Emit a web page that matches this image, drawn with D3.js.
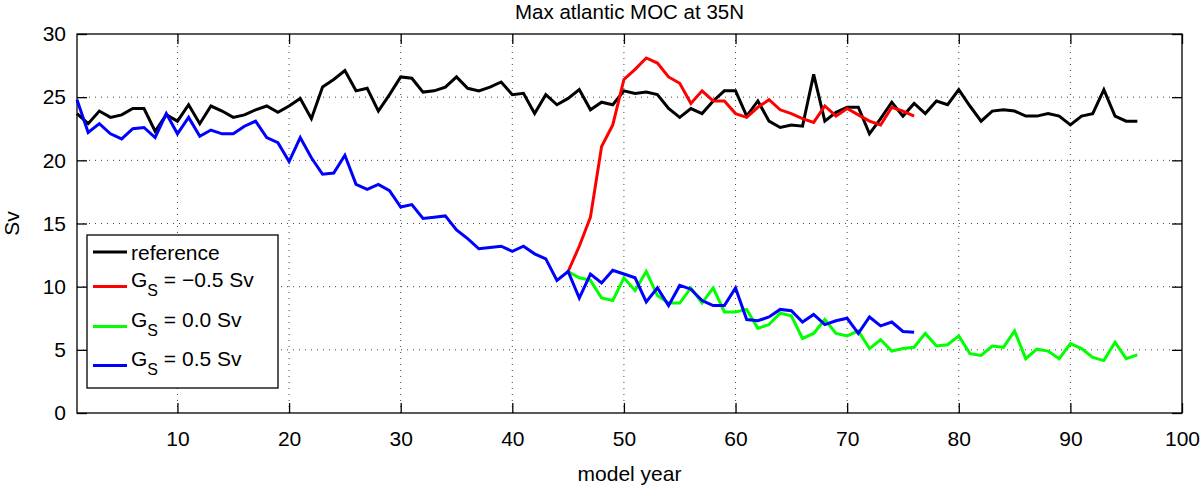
<!DOCTYPE html>
<html>
<head>
<meta charset="utf-8">
<script src="https://cdn.jsdelivr.net/npm/d3@7"></script>
<style>
  body { margin: 0; background: #fff; }
  text { font-family: "Liberation Sans", Arial, sans-serif; fill: #000; }
</style>
</head>
<body>
<div class="chart"></div>
<script>
// values, one per model year
const refStart = 1
const refValues = [23.7, 22.9, 23.9, 23.4, 23.6, 24.1, 24.1, 22.3, 23.6, 23.1,
  24.4, 22.9, 24.3, 23.9, 23.4, 23.6, 24.0, 24.3, 23.8, 24.3,
  24.9, 23.3, 25.8, 26.4, 27.1, 25.5, 25.7, 23.9, 25.2, 26.6,
  26.5, 25.4, 25.5, 25.8, 26.6, 25.7, 25.5, 25.8, 26.2, 25.2,
  25.3, 23.7, 25.2, 24.4, 24.9, 25.6, 24.0, 24.6, 24.4, 25.5,
  25.3, 25.4, 25.2, 24.1, 23.4, 24.1, 23.7, 24.7, 25.5, 25.5,
  23.5, 24.7, 23.1, 22.6, 22.8, 22.7, 26.8, 23.1, 23.8, 24.2,
  24.2, 22.1, 23.3, 24.6, 23.5, 24.5, 23.7, 24.7, 24.4, 25.6,
  24.3, 23.1, 23.9, 24.0, 23.9, 23.5, 23.5, 23.7, 23.5, 22.8,
  23.5, 23.7, 25.6, 23.5, 23.1, 23.1]

const negStart = 45
const negValues = [11.2, 13.2, 15.5, 21.1, 22.8, 26.4, 27.2, 28.1, 27.7, 26.6,
  26.1, 24.5, 25.5, 24.7, 24.7, 23.7, 23.4, 24.2, 24.8, 24.0,
  23.7, 23.3, 23.0, 24.3, 23.5, 24.1, 23.6, 23.1, 22.8, 24.2,
  23.9, 23.5]

const zeroStart = 45
const zeroValues = [11.2, 10.7, 10.5, 9.1, 8.9, 10.7, 9.7, 11.2, 9.3, 8.7,
  8.7, 9.9, 8.7, 9.9, 8.0, 8.0, 8.2, 6.7, 7.0, 7.9,
  7.7, 5.9, 6.3, 7.4, 6.3, 6.1, 6.5, 5.1, 5.8, 4.9,
  5.1, 5.2, 6.3, 5.3, 5.4, 6.1, 4.7, 4.55, 5.3, 5.2,
  6.5, 4.3, 5.05, 4.9, 4.3, 5.5, 5.1, 4.4, 4.15, 5.6,
  4.3, 4.6]

const posStart = 1
const posValues = [24.8, 22.2, 22.9, 22.1, 21.7, 22.5, 22.6, 21.8, 23.7, 22.1,
  23.4, 21.9, 22.4, 22.1, 22.1, 22.7, 23.1, 21.8, 21.4, 19.9,
  21.8, 20.2, 18.9, 19.0, 20.4, 18.1, 17.7, 18.1, 17.6, 16.3,
  16.5, 15.4, 15.5, 15.6, 14.5, 13.8, 13.0, 13.1, 13.2, 12.8,
  13.2, 12.6, 12.2, 10.5, 11.2, 9.1, 11.0, 10.3, 11.3, 11.0,
  10.7, 8.8, 9.9, 8.5, 10.1, 9.8, 8.9, 8.5, 8.5, 9.9,
  7.4, 7.3, 7.6, 8.2, 8.1, 7.2, 7.8, 7.0, 7.3, 7.5,
  6.3, 7.6, 6.9, 7.2, 6.45, 6.4]

const xTicks = [10, 20, 30, 40, 50, 60, 70, 80, 90, 100]
const yTicks = [0, 5, 10, 15, 20, 25, 30]

const series = [
  { name: 'reference', start: refStart, values: refValues, color: '#000000' },
  { name: 'G', value: ' = \u22120.5 Sv', start: negStart, values: negValues, color: '#ff0000' },
  { name: 'G', value: ' = 0.0 Sv', start: zeroStart, values: zeroValues, color: '#00ff00' },
  { name: 'G', value: ' = 0.5 Sv', start: posStart, values: posValues, color: '#0000ff' }
]

const width = 1200
const height = 487
const plotLeft = 77, plotRight = 1182, plotTop = 34, plotBottom = 413
const fontSize = '21px'

const x = d3.scaleLinear().domain([1, 100]).range([plotLeft, plotRight])
const y = d3.scaleLinear().domain([0, 30]).range([plotBottom, plotTop])

const svg = d3.select('.chart')
  .append('svg')
  .attr('width', width)
  .attr('height', height)

// dotted grid
svg.append('g')
  .selectAll('line')
  .data(xTicks.filter(d => d < 100))
  .enter()
  .append('line')
    .attr('x1', d => x(d)).attr('x2', d => x(d))
    .attr('y1', plotTop).attr('y2', plotBottom)
    .attr('stroke', '#444')
    .attr('stroke-width', 1)
    .attr('stroke-dasharray', '1,5')

svg.append('g')
  .selectAll('line')
  .data(yTicks.filter(d => d > 0 && d < 30))
  .enter()
  .append('line')
    .attr('x1', plotLeft).attr('x2', plotRight)
    .attr('y1', d => y(d)).attr('y2', d => y(d))
    .attr('stroke', '#444')
    .attr('stroke-width', 1)
    .attr('stroke-dasharray', '1,5')

// axes with inward ticks, matlab style
const tickLen = 10
const axisStyle = function (g) {
  g.select('.domain').remove()
  g.selectAll('.tick line').attr('stroke', '#000').attr('stroke-width', 1.3)
  g.selectAll('.tick text')
    .style('font-family', '"Liberation Sans", Arial, sans-serif')
    .style('font-size', fontSize)
    .attr('fill', '#000')
}

svg.append('g')
  .attr('transform', `translate(0,${plotBottom})`)
  .call(d3.axisBottom(x).tickValues(xTicks).tickSizeInner(-tickLen).tickSizeOuter(0).tickPadding(18))
  .call(axisStyle)

svg.append('g')
  .attr('transform', `translate(0,${plotTop})`)
  .call(d3.axisTop(x).tickValues(xTicks).tickSizeInner(-tickLen).tickSizeOuter(0).tickFormat(''))
  .call(axisStyle)

svg.append('g')
  .attr('transform', `translate(${plotLeft},0)`)
  .call(d3.axisLeft(y).tickValues(yTicks).tickSizeInner(-tickLen).tickSizeOuter(0).tickPadding(11))
  .call(axisStyle)

svg.append('g')
  .attr('transform', `translate(${plotRight},0)`)
  .call(d3.axisRight(y).tickValues(yTicks).tickSizeInner(-tickLen).tickSizeOuter(0).tickFormat(''))
  .call(axisStyle)

svg.append('rect')
  .attr('x', plotLeft).attr('y', plotTop)
  .attr('width', plotRight - plotLeft).attr('height', plotBottom - plotTop)
  .attr('fill', 'none')
  .attr('stroke', '#000')
  .attr('stroke-width', 1.3)

// data lines
const line = d3.line()
  .x(d => x(d[0]))
  .y(d => y(d[1]))

svg.append('g')
  .selectAll('path')
  .data(series)
  .enter()
  .append('path')
    .attr('d', s => line(s.values.map((v, i) => [s.start + i, v])))
    .attr('fill', 'none')
    .attr('stroke', s => s.color)
    .attr('stroke-width', 3)
    .attr('stroke-linejoin', 'miter')

// title and labels
svg.append('text')
  .attr('x', (plotLeft + plotRight) / 2)
  .attr('y', 19)
  .attr('text-anchor', 'middle')
  .style('font-size', '20.5px')
  .text('Max atlantic MOC at 35N')

svg.append('text')
  .attr('x', (plotLeft + plotRight) / 2)
  .attr('y', 481)
  .attr('text-anchor', 'middle')
  .style('font-size', fontSize)
  .text('model year')

svg.append('text')
  .attr('transform', `translate(19,${(plotTop + plotBottom) / 2}) rotate(-90)`)
  .attr('text-anchor', 'middle')
  .style('font-size', fontSize)
  .text('Sv')

// legend
const legend = svg.append('g')

legend.append('rect')
  .attr('x', 87).attr('y', 235)
  .attr('width', 191).attr('height', 153)
  .attr('fill', '#fff')
  .attr('stroke', '#000')
  .attr('stroke-width', 1.3)

const rowY = [252, 286.5, 326.5, 365.5]

const rows = legend.selectAll('.row')
  .data(series)
  .enter()
  .append('g')
    .attr('class', 'row')
    .attr('transform', (d, i) => `translate(0,${rowY[i]})`)

rows.append('line')
  .attr('x1', 93).attr('x2', 127)
  .attr('y1', 0).attr('y2', 0)
  .attr('stroke', d => d.color)
  .attr('stroke-width', 3)

const labels = rows.append('text')
  .attr('x', 131)
  .attr('y', (d, i) => i === 0 ? 8 : 0)
  .style('font-size', fontSize)

labels.append('tspan').text(d => d.name)
labels.filter(d => d.value)
  .append('tspan')
  .attr('dy', 9)
  .style('font-size', '16px')
  .text('S')
labels.filter(d => d.value)
  .append('tspan')
  .attr('dy', -9)
  .text(d => d.value)
</script>
</body>
</html>
